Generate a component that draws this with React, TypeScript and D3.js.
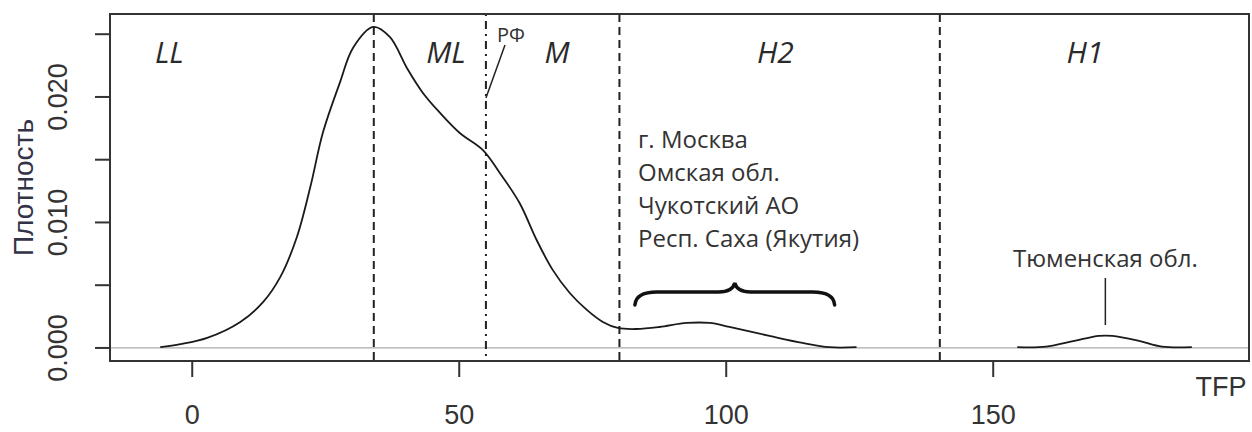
import React from "react";
import * as d3 from "d3";

// density of TFP (main body of regions)
const mainTfp = [-6, -2.2, 2.8, 9, 13.3, 16.5, 19.6, 22.1, 24.5, 27.7, 30.1, 33.9, 37, 40.2, 43.2, 46.4, 50.1, 54.4, 57.6, 61.3, 64.5, 67.5, 70.7, 73.9, 76.9, 79.7, 83.2, 87.5, 92.6, 96.9, 100.6, 108.1, 114.3, 119.3, 124.4];
const mainDensity = [0.00006, 0.0003, 0.0008, 0.00207, 0.00367, 0.00566, 0.00884, 0.0128, 0.0172, 0.0212, 0.0239, 0.02558, 0.02478, 0.02231, 0.02032, 0.01873, 0.01713, 0.01578, 0.01394, 0.01155, 0.0086, 0.00622, 0.00438, 0.00303, 0.00207, 0.00159, 0.00151, 0.00167, 0.00199, 0.00199, 0.00167, 0.00096, 0.0004, 0.00006, 0.00006];
// separate bump: Tyumen oblast
const tyumenTfp = [154.5, 159.9, 165.2, 169.8, 172.3, 177.3, 181.6, 187.2];
const tyumenDensity = [0.00006, 0.0001, 0.00056, 0.00096, 0.00096, 0.00056, 0.0001, 0.00006];

const xTicks = [0, 50, 100, 150];
const yTicks = [0, 0.005, 0.01, 0.015, 0.02, 0.025];
const yLabelled = [0, 0.01, 0.02];
const dashedLines = [34, 80, 140];
const rfLine = 55;
const zoneNames = ["LL", "ML", "M", "H2", "H1"];
const zoneCentres = [-4.3, 47.5, 68.3, 109.2, 167.2];
const h2Regions = ["г. Москва", "Омская обл.", "Чукотский АО", "Респ. Саха (Якутия)"];

const W = 1252;
const H = 432;
const box = { left: 110, right: 1249, top: 14, bottom: 361 };
const axisFont = "'Liberation Sans', Arial, sans-serif";
const noteFont = "'Open Sans', 'Liberation Sans', sans-serif";

export default function App() {
  const x = d3.scaleLinear().domain([-15.4, 197.9]).range([box.left, box.right]);
  const y = d3.scaleLinear().domain([-0.00104, 0.02661]).range([box.bottom, box.top]);

  const densityLine = d3
    .line<[number, number]>()
    .x((d) => x(d[0]))
    .y((d) => y(d[1]))
    .curve(d3.curveCatmullRom.alpha(0.5));

  const mainPath = densityLine(mainTfp.map((t, i) => [t, mainDensity[i]]));
  const tyumenPath = densityLine(tyumenTfp.map((t, i) => [t, tyumenDensity[i]]));

  // curly brace under the H2 region list
  const bx0 = x(82.9), bx1 = x(120.3), bxc = x(101.6);
  const byEnd = y(0.00343), byBody = y(0.00446), byTip = y(0.00518);
  const brace =
    `M${bx0},${byEnd} Q${bx0 + 1},${byBody} ${bx0 + 22},${byBody} ` +
    `L${bxc - 16},${byBody} Q${bxc - 2},${byBody} ${bxc},${byTip} ` +
    `Q${bxc + 2},${byBody} ${bxc + 16},${byBody} ` +
    `L${bx1 - 22},${byBody} Q${bx1 - 1},${byBody} ${bx1},${byEnd}`;

  const tyumenX = x(171);

  return (
    <svg width={W} height={H} style={{ position: "absolute", left: 0, top: 0, background: "#fff" }}>
      <rect x={0} y={0} width={W} height={H} fill="#fff" />
      {/* zero line */}
      <line x1={box.left} x2={box.right} y1={y(0)} y2={y(0)} stroke="#aaa" strokeWidth={1.2} />

      {/* zone boundaries */}
      {dashedLines.map((v) => (
        <line key={v} x1={x(v)} x2={x(v)} y1={box.top} y2={box.bottom} stroke="#222" strokeWidth={2} strokeDasharray="8,5" />
      ))}
      <line x1={x(rfLine)} x2={x(rfLine)} y1={box.top} y2={box.bottom} stroke="#222" strokeWidth={2} strokeDasharray="2,5,8,5" />

      {/* density */}
      <path d={mainPath ?? ""} fill="none" stroke="#1a1a1a" strokeWidth={1.8} />
      <path d={tyumenPath ?? ""} fill="none" stroke="#1a1a1a" strokeWidth={1.8} />

      {/* box */}
      <rect x={box.left} y={box.top} width={box.right - box.left} height={box.bottom - box.top} fill="none" stroke="#333" strokeWidth={2} />

      {/* y axis */}
      {yTicks.map((t) => (
        <line key={t} x1={box.left - 15} x2={box.left} y1={y(t)} y2={y(t)} stroke="#333" strokeWidth={2} />
      ))}
      {yLabelled.map((t) => (
        <text key={t} transform={`translate(67,${y(t)}) rotate(-90)`} textAnchor="middle" fontFamily={axisFont} fontSize={27} fill="#333">
          {d3.format(".3f")(t)}
        </text>
      ))}
      <text transform={`translate(33,${(box.top + box.bottom) / 2}) rotate(-90)`} textAnchor="middle" fontFamily={axisFont} fontSize={28} fill="#333348">
        Плотность
      </text>

      {/* x axis */}
      {xTicks.map((t) => (
        <g key={t}>
          <line x1={x(t)} x2={x(t)} y1={box.bottom} y2={box.bottom + 16} stroke="#333" strokeWidth={2} />
          <text x={x(t)} y={424} textAnchor="middle" fontFamily={axisFont} fontSize={27} fill="#333">
            {t}
          </text>
        </g>
      ))}
      <text x={1221} y={396} textAnchor="middle" fontFamily={axisFont} fontSize={27} fill="#333">
        TFP
      </text>

      {/* zone labels */}
      {zoneNames.map((n, i) => (
        <text key={n} x={x(zoneCentres[i])} y={63} textAnchor="middle" fontFamily={noteFont} fontStyle="italic" fontSize={30} fill="#2a2a2a">
          {n}
        </text>
      ))}

      {/* RF marker */}
      <text x={511} y={42} textAnchor="middle" fontFamily={noteFont} fontSize={20} fill="#333">
        РФ
      </text>
      <line x1={505} y1={45} x2={x(rfLine)} y2={98} stroke="#222" strokeWidth={1.5} />

      {/* H2 region list */}
      {h2Regions.map((r, i) => (
        <text key={r} x={638} y={148 + i * 33} fontFamily={noteFont} fontSize={24} fill="#333">
          {r}
        </text>
      ))}
      <path d={brace} fill="none" stroke="#111" strokeWidth={3.5} strokeLinecap="round" />

      {/* Tyumen */}
      <text x={tyumenX} y={267} textAnchor="middle" fontFamily={noteFont} fontSize={24} fill="#333">
        Тюменская обл.
      </text>
      <line x1={tyumenX} x2={tyumenX} y1={278} y2={325} stroke="#222" strokeWidth={1.5} />
    </svg>
  );
}
